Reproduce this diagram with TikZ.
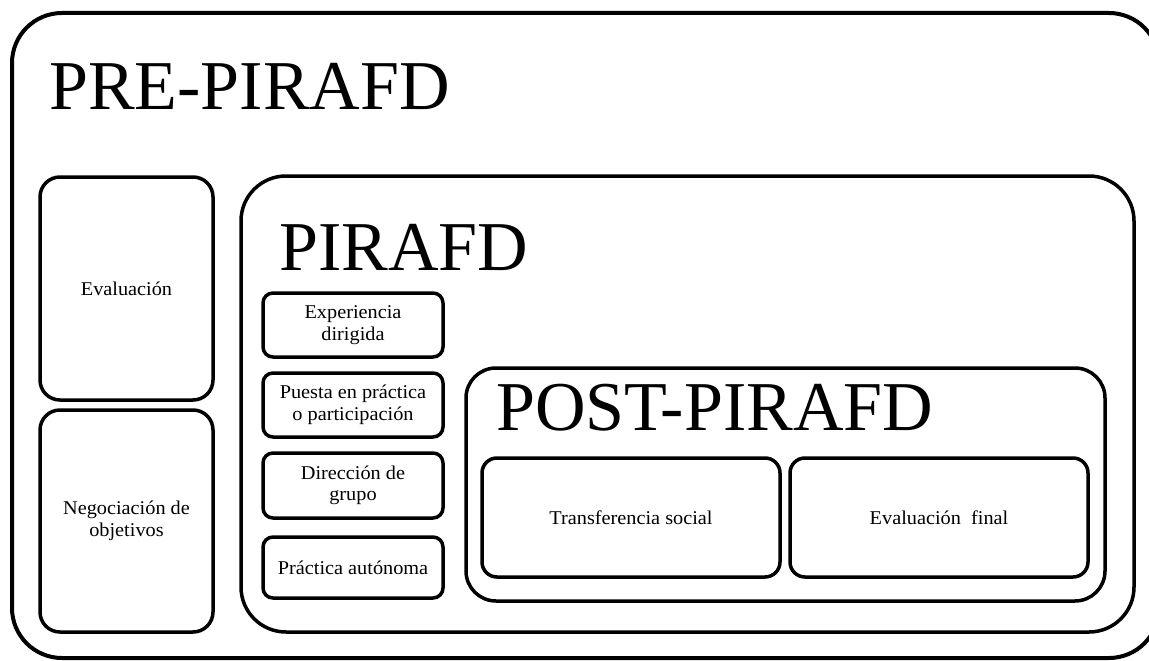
\documentclass[tikz,border=0pt]{standalone}
\usepackage{fontspec}
\setmainfont{Liberation Serif}
\newfontfamily\boxfont[FakeStretch=1.04]{Liberation Serif}
\begin{document}
\begin{tikzpicture}[x=1pt,y=-1pt,
  box/.style={draw, line width=3.5pt, inner sep=0pt, align=center,
    font=\boxfont\fontsize{19.5}{21.5}\selectfont},
  title/.style={inner sep=0pt, anchor=base west, font=\fontsize{70}{70}\selectfont}]
\useasboundingbox (0,0) rectangle (1149,661);
\clip (0,0) rectangle (1149,661);
\fill[white] (0,0) rectangle (1149,661);
% outer
\node[box, line width=4pt, rounded corners=50pt, minimum width=1147pt, minimum height=645pt] (outer) at (585.5,335.5) {};
\node[title] (pretitle) at (49,110) {PRE-PIRAFD};
% left column
\node[box, rounded corners=20pt, minimum width=173pt, minimum height=223pt] (eval) at (126.5,288.5) {Evaluación};
\node[box, rounded corners=20pt, minimum width=173pt, minimum height=222pt] (nego) at (126.5,521) {Negociación de\\objetivos};
% PIRAFD
\node[box, rounded corners=45pt, minimum width=893pt, minimum height=456pt] (pirafd) at (687.5,404) {};
\node[title] (pirtitle) at (279,270) {PIRAFD};
\node[box, rounded corners=10pt, minimum width=180pt, minimum height=64pt] (exp) at (353,325) {Experiencia\\dirigida};
\node[box, rounded corners=10pt, minimum width=180pt, minimum height=64pt] (pue) at (353,405) {Puesta en práctica\\o participación};
\node[box, rounded corners=10pt, minimum width=180pt, minimum height=65pt] (dir) at (353,485.5) {Dirección de\\grupo};
\node[box, rounded corners=10pt, minimum width=180pt, minimum height=61pt] (pra) at (353,567.5) {Práctica autónoma};
% POST-PIRAFD
\node[box, rounded corners=30pt, minimum width=639pt, minimum height=233pt] (post) at (785.5,484.5) {};
\node[title] (posttitle) at (496,430) {POST-PIRAFD};
\node[box, rounded corners=15pt, minimum width=298pt, minimum height=119pt] (trans) at (631,517.5) {Transferencia social};
\node[box, rounded corners=15pt, minimum width=298pt, minimum height=119pt] (evalf) at (939,517.5) {Evaluación\ \ final};
\end{tikzpicture}
\end{document}
